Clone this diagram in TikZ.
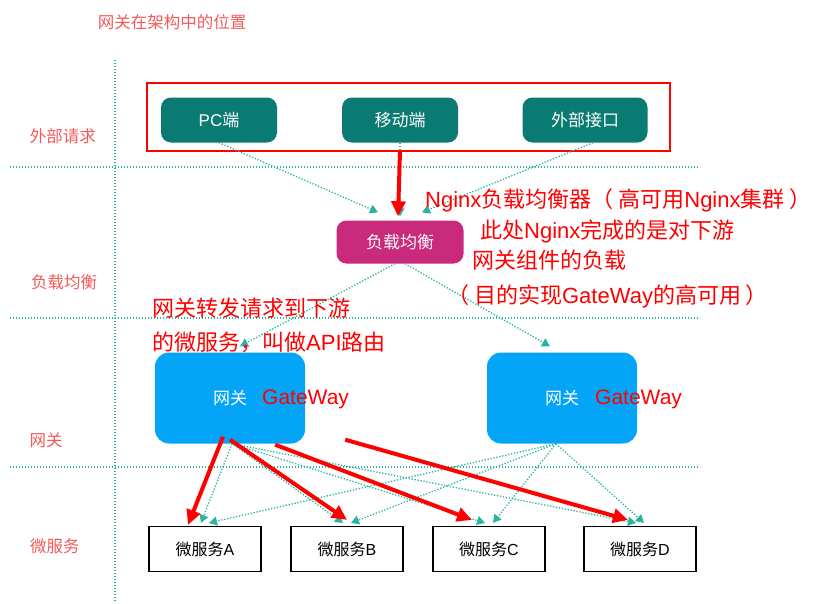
\documentclass[tikz,border=0pt]{standalone}
\usepackage{fontspec}
\setmainfont{Noto Sans CJK SC}
\newfontfamily\latin{Liberation Sans}
\usetikzlibrary{arrows.meta,positioning,calc}

\definecolor{clientteal}{HTML}{0A7B72}
\definecolor{lbpink}{HTML}{C92A7B}
\definecolor{gwblue}{HTML}{04A4F7}
\definecolor{dotteal}{HTML}{2AB3A3}
\definecolor{softred}{HTML}{F25A5A}

\tikzset{
  grid/.style={dotteal, line width=1.3pt, dash pattern=on 1.3pt off 1.7pt},
  rowlabel/.style={softred, font=\fontsize{16.5}{19}\selectfont},
  client/.style={rectangle, rounded corners=10pt, fill=clientteal, text=white,
    minimum width=116pt, minimum height=45pt, font=\fontsize{17}{20}\selectfont},
  balancer/.style={rectangle, rounded corners=10pt, fill=lbpink, text=white,
    minimum width=127pt, minimum height=43pt, font=\fontsize{17}{20}\selectfont},
  gateway/.style={rectangle, rounded corners=14pt, fill=gwblue, text=white,
    minimum width=150pt, minimum height=91pt, font=\fontsize{17}{20}\selectfont},
  service/.style={rectangle, draw=black, line width=1.2pt, fill=white,
    minimum width=112pt, minimum height=45pt, font=\fontsize{16}{19}\selectfont},
  note/.style={red, anchor=west, inner sep=0pt, font=\fontsize{22}{26}\selectfont},
  gwtag/.style={red, anchor=west, inner sep=0pt, font=\latin\fontsize{21}{24}\selectfont},
  flow/.style={dotteal, line width=1.3pt, dash pattern=on 1.3pt off 1.7pt,
    -{Triangle[width=9pt,length=8pt]}},
  route/.style={red, line width=4pt, -{Triangle[width=14pt,length=15pt]}}
}

\begin{document}
\begin{tikzpicture}[x=1pt,y=-1pt]
    \useasboundingbox (0,0) rectangle (817,603);

    % Title
    \node[rowlabel] (title) at (172,22) {网关在架构中的位置};

    % Grid
    \draw[grid] (115,60) -- (115,603);
    \draw[grid] (10,167) -- (700,167);
    \draw[grid] (10,318) -- (700,318);
    \draw[grid] (10,467) -- (700,467);

    % Rows
    \node[rowlabel] (rowclient) at (63,136) {外部请求};
    \node[rowlabel] (rowlb) at (64,282) {负载均衡};
    \node[rowlabel] (rowgw) at (46,440) {网关};
    \node[rowlabel] (rowms) at (55,546) {微服务};

    % Clients
    \node[draw=red, line width=1.3pt, minimum width=523pt, minimum height=68pt] (frame) at (408.5,117) {};
    \node[client] (pc) at (219,120) {{\latin PC}端};
    \node[client] (mobile) at (400,120) {移动端};
    \node[client, minimum width=125pt] (api) at (585,120) {外部接口};

    % Load balancer
    \node[balancer] (lb) at (400,242) {负载均衡};

    % Gateways
    \node[gateway] (gwL) at (230,398) {网关};
    \node[gateway] (gwR) at (562,398) {网关};
    \node[gwtag] (tagL) at ([xshift=32pt,yshift=-1pt]gwL.center) {GateWay};
    \node[gwtag] (tagR) at ([xshift=33pt,yshift=-1pt]gwR.center) {GateWay};

    % Services
    \node[service] (msA) at (205,549) {微服务{\latin A}};
    \node[service] (msB) at (347,549) {微服务{\latin B}};
    \node[service] (msC) at (489,549) {微服务{\latin C}};
    \node[service] (msD) at (640,549) {微服务{\latin D}};

    % Dotted flows
    \draw[flow] (pc.south) -- ([xshift=-22pt,yshift=8pt]lb.north);
    \draw[flow] ([xshift=8pt]api.south) -- ([xshift=22pt,yshift=8pt]lb.north);
    \draw[flow] (mobile.south) -- ([yshift=4pt]lb.north);
    \draw[flow] ([xshift=-5pt]lb.south) -- ([xshift=10pt,yshift=6pt]gwL.north);
    \draw[flow] ([xshift=5pt]lb.south) -- ([xshift=-12pt,yshift=6pt]gwR.north);
    \foreach \ms in {msA,msB,msC,msD}
        \draw[flow] ([xshift=2pt]gwL.south) -- ([xshift=-4pt,yshift=3pt]\ms.north);
    \foreach \ms in {msA,msB,msC,msD}
        \draw[flow] ([xshift=-6pt]gwR.south) -- ([xshift=4pt,yshift=3pt]\ms.north);

    % Red routes
    \draw[route] ([yshift=-9pt]mobile.south) -- ([xshift=-2pt,yshift=4pt]lb.north);
    \draw[route] ([xshift=-7pt,yshift=7pt]gwL.south) -- ([xshift=-17pt,yshift=1pt]msA.north);
    \draw[route] ([yshift=4pt]gwL.south) -- ([yshift=6pt]msB.north);
    \draw[route] ([xshift=-30pt,yshift=-1pt]gwL.south east) -- ([xshift=-17pt,yshift=6pt]msC.north);
    \draw[route] ([xshift=40pt,yshift=4pt]gwL.south east) -- ([xshift=-12pt,yshift=6pt]msD.north);

    % Notes
    \node[note] (nginx1) at (425,200) {{\latin Nginx}负载均衡器（ 高可用{\latin Nginx}集群 ）};
    \node[note] (nginx2) at (480,231) {此处{\latin Nginx}完成的是对下游};
    \node[note] (nginx3) at (472,260) {网关组件的负载};
    \node[note] (nginx4) at (447,296) {（ 目的实现{\latin GateWay}的高可用 ）};
    \node[note] (api1) at (152,308) {网关转发请求到下游};
    \node[note] (api2) at (152,342) {的微服务，叫做{\latin API}路由};
\end{tikzpicture}
\end{document}
